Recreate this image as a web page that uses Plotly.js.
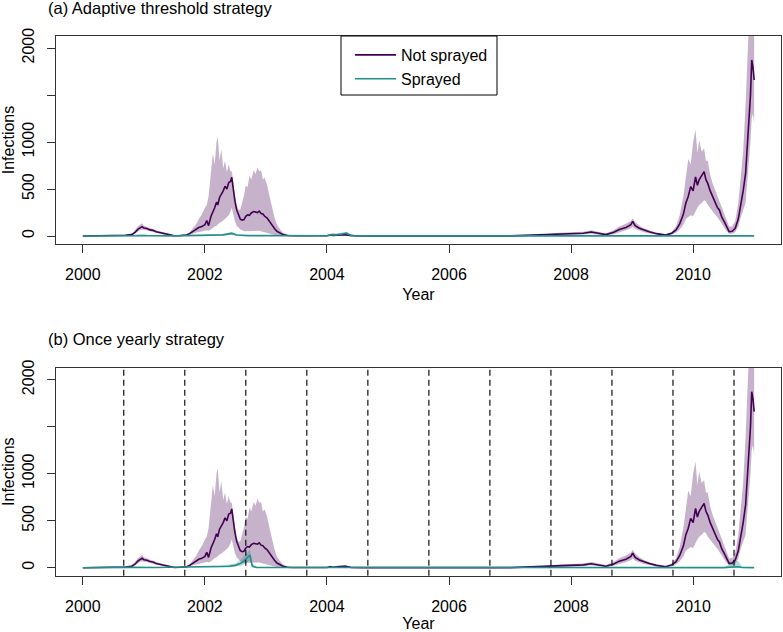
<!DOCTYPE html>
<html>
<head>
<meta charset="utf-8">
<script src="https://cdn.plot.ly/plotly-3.0.1.min.js"></script>
<style>html,body{margin:0;padding:0;background:#fff;}#chart{width:783px;height:632px;}</style>
</head>
<body>
<div id="chart"></div>
<script>
// ---- Not sprayed (same in both panels) ----
const tNS = [2000.00,2000.50,2000.70,2000.80,2000.85,2000.90,2000.95,2000.97,2001.00,2001.05,2001.10,2001.15,2001.20,2001.30,2001.40,2001.50,2001.60,2001.70,2001.75,2001.80,2001.85,2001.90,2001.95,2002.00,2002.03,2002.06,2002.10,2002.13,2002.16,2002.19,2002.21,2002.24,2002.27,2002.30,2002.33,2002.36,2002.39,2002.42,2002.44,2002.46,2002.49,2002.52,2002.55,2002.58,2002.61,2002.64,2002.67,2002.70,2002.73,2002.76,2002.80,2002.83,2002.86,2002.89,2002.92,2002.95,2002.98,2003.02,2003.06,2003.10,2003.14,2003.18,2003.22,2003.28,2003.35,2003.45,2004.00,2004.05,2004.10,2004.20,2004.30,2004.40,2004.60,2007.00,2007.20,2007.50,2007.80,2008.00,2008.20,2008.33,2008.45,2008.57,2008.70,2008.79,2008.90,2008.98,2009.01,2009.05,2009.12,2009.20,2009.28,2009.40,2009.55,2009.65,2009.72,2009.78,2009.84,2009.88,2009.92,2009.96,2010.00,2010.04,2010.07,2010.10,2010.14,2010.18,2010.21,2010.24,2010.28,2010.32,2010.36,2010.40,2010.43,2010.47,2010.51,2010.55,2010.59,2010.64,2010.69,2010.74,2010.78,2010.82,2010.86,2010.89,2010.91,2010.94,2010.96,2010.98,2011.00];
const nsMean = [0,4,8,15,35,70,95,100,85,80,65,60,45,30,12,3,5,10,25,50,70,90,100,120,165,110,210,250,300,360,330,410,440,480,530,500,570,580,625,520,380,280,220,180,170,175,210,225,220,245,260,255,250,265,240,235,210,190,150,110,80,50,35,15,5,2,2,10,5,12,15,3,1,1,5,8,20,25,30,42,25,15,40,70,90,120,155,110,82,60,45,25,10,30,64,130,230,348,420,525,480,630,540,600,650,685,600,560,480,418,360,300,277,200,153,90,46,50,82,180,312,480,667,950,1234,1500,1873,1800,1660];
const nsLo = [0,1,3,5,20,45,70,75,65,60,50,45,32,20,5,0,1,5,12,25,35,45,50,55,60,55,70,80,100,110,120,140,150,170,180,200,220,260,300,250,160,110,90,70,60,50,50,50,50,50,55,55,55,55,50,45,40,35,25,20,12,8,5,2,0,0,0,3,1,4,5,0,0,0,2,3,10,12,15,25,15,5,20,40,60,80,100,75,55,40,28,15,5,15,35,70,120,180,200,220,210,260,300,330,350,380,370,330,300,260,230,200,180,130,90,50,25,25,40,100,200,280,350,600,800,1000,1250,1300,1200];
const nsHi = [0,8,14,25,55,100,130,135,110,100,85,75,60,40,20,8,10,18,40,80,120,180,230,300,330,420,650,880,760,1000,1060,800,920,720,800,680,760,690,690,580,450,330,280,280,350,430,540,520,640,600,700,660,730,690,700,600,620,540,420,300,200,120,80,35,15,5,5,20,12,25,30,8,3,3,10,15,35,40,45,60,40,28,60,100,130,160,190,150,110,80,60,35,20,45,100,220,420,600,820,760,1000,1130,880,1020,900,930,800,800,650,560,490,420,370,300,250,160,100,100,160,350,600,900,1400,1900,2200,2300,2400,2400,2300];

// ---- Sprayed, panel (a) adaptive threshold ----
const tSA = [2000.00,2000.80,2000.90,2000.97,2001.10,2001.50,2001.80,2002.10,2002.30,2002.44,2002.52,2002.70,2003.00,2003.50,2004.00,2004.08,2004.15,2004.25,2004.32,2004.38,2004.50,2007.00,2011.00];
const saMean = [0,2,6,8,3,1,3,5,12,28,10,4,2,1,2,15,12,22,30,10,1,1,1];
const saLo = [0,0,1,2,0,0,0,1,3,10,3,0,0,0,0,5,4,8,12,3,0,0,0];
const saHi = [0,5,20,25,8,3,8,12,25,45,20,10,5,2,5,30,28,38,45,20,3,2,2];

// ---- Sprayed, panel (b) once yearly ----
const tSB = [2000.00,2000.60,2000.67,2000.80,2001.20,2001.67,2001.80,2002.20,2002.40,2002.50,2002.58,2002.64,2002.69,2002.72,2002.74,2002.76,2002.78,2002.85,2003.20,2004.20,2010.50,2010.60,2010.67,2010.74,2010.80,2011.00];
const sbMean = [0,4,8,4,3,8,4,8,15,25,45,70,100,120,135,60,15,3,1,2,1,5,12,10,2,1];
const sbLo = [0,0,2,0,0,2,0,2,5,10,20,35,55,70,80,25,3,0,0,0,0,0,1,0,0,0];
const sbHi = [0,10,15,10,6,15,10,15,30,45,80,120,160,175,190,110,40,8,3,5,3,40,80,70,10,3];

// ---- Spray dates (once yearly strategy) ----
const sprayYears = [2000.67,2001.67,2002.67,2003.67,2004.67,2005.67,2006.67,2007.67,2008.67,2009.67,2010.67];

const xTicks = [2000,2002,2004,2006,2008,2010];
const yTickVals = [0,500,1000,1500,2000];
const yTickText = ['0','500','1000','','2000'];

const purple = '#440154', teal = '#21908C';
const purpleFill = 'rgba(68,1,84,0.30)', tealFill = 'rgba(33,144,140,0.35)';

function ribbon(t, lo, hi, fill, xa, ya) {
  return {x: t.concat(t.slice().reverse()), y: hi.concat(lo.slice().reverse()),
    type: 'scatter', mode: 'lines', fill: 'toself', fillcolor: fill,
    line: {width: 0, color: fill}, hoverinfo: 'skip', showlegend: false, xaxis: xa, yaxis: ya};
}
function line(t, m, color, name, xa, ya, show) {
  return {x: t, y: m, type: 'scatter', mode: 'lines', name: name,
    line: {color: color, width: 1.6}, showlegend: show, xaxis: xa, yaxis: ya};
}

const traces = [
  ribbon(tNS, nsLo, nsHi, purpleFill, 'x', 'y'),
  ribbon(tSA, saLo, saHi, tealFill, 'x', 'y'),
  line(tNS, nsMean, purple, 'Not sprayed', 'x', 'y', true),
  line(tSA, saMean, teal, 'Sprayed', 'x', 'y', true),
  ribbon(tNS, nsLo, nsHi, purpleFill, 'x2', 'y2'),
  ribbon(tSB, sbLo, sbHi, tealFill, 'x2', 'y2'),
  line(tNS, nsMean, purple, 'Not sprayed', 'x2', 'y2', false),
  line(tSB, sbMean, teal, 'Sprayed', 'x2', 'y2', false)
];

const fnt = {family: 'Liberation Sans, Arial, Helvetica, sans-serif', size: 16, color: '#000'};
const W = 783, H = 632;
function xax(anchor) {
  return {domain: [56/W, 781/W], range: [1999.56, 2011.44], anchor: anchor,
    tickmode: 'array', tickvals: xTicks, ticks: 'outside', ticklen: 8, tickcolor: '#333', tickwidth: 1,
    showline: true, mirror: true, linecolor: '#333', linewidth: 1, showgrid: false, zeroline: false,
    tickfont: fnt, ticklabelstandoff: 8, automargin: false,
    title: {text: 'Year', font: fnt, standoff: 6}};
}
function yax(anchor, dom) {
  return {domain: dom, range: [-85, 2128], anchor: anchor,
    tickmode: 'array', tickvals: yTickVals, ticktext: yTickText, tickangle: -90,
    ticks: 'outside', ticklen: 8, tickcolor: '#333', tickwidth: 1,
    showline: true, mirror: true, linecolor: '#333', linewidth: 1, showgrid: false, zeroline: false,
    tickfont: fnt, ticklabelstandoff: 7, automargin: false,
    title: {text: 'Infections', font: fnt, standoff: 4}};
}

const shapes = sprayYears.map(s => ({type: 'line', xref: 'x2', yref: 'y2 domain', x0: s, x1: s, y0: 0, y1: 1,
  line: {color: '#111', width: 1.2, dash: '6px,4px'}}));
// legend frame
shapes.push({type: 'rect', xref: 'paper', yref: 'paper', x0: 341/W, x1: 497/W, y0: 1-95/H, y1: 1-36/H,
  fillcolor: '#fff', line: {color: '#000', width: 1}, layer: 'above'});

const titleFont = Object.assign({}, fnt, {size: 16.5});
const layout = {
  width: W, height: H, margin: {l: 0, r: 0, t: 0, b: 0},
  paper_bgcolor: '#fff', plot_bgcolor: '#fff', font: fnt,
  xaxis: xax('y'), yaxis: yax('x', [1-244/H, 1-36/H]),
  xaxis2: xax('y2'), yaxis2: yax('x2', [1-575.7/H, 1-367.7/H]),
  showlegend: true,
  legend: {x: 350/W, y: 1-38/H, xanchor: 'left', yanchor: 'top', bgcolor: 'rgba(0,0,0,0)',
    borderwidth: 0, font: fnt, traceorder: 'normal', itemwidth: 41},
  shapes: shapes,
  annotations: [
    {text: '(a) Adaptive threshold strategy', xref: 'paper', yref: 'paper', x: 46/W, y: 1-8/H,
     xanchor: 'left', yanchor: 'middle', showarrow: false, font: titleFont},
    {text: '(b) Once yearly strategy', xref: 'paper', yref: 'paper', x: 46/W, y: 1-339/H,
     xanchor: 'left', yanchor: 'middle', showarrow: false, font: titleFont}
  ]
};

Plotly.newPlot('chart', traces, layout, {displayModeBar: false, staticPlot: true});
</script>
</body>
</html>
